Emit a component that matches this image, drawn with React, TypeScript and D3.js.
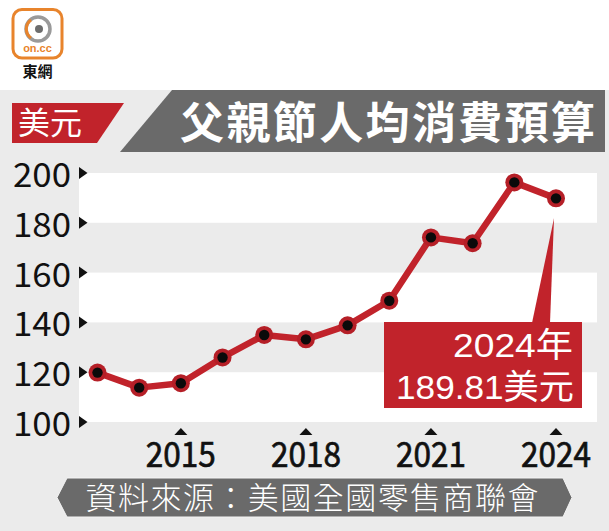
import React from "react";
import * as d3 from "d3";

const years = [2013, 2014, 2015, 2016, 2017, 2018, 2019, 2020, 2021, 2022, 2023, 2024];
const budgets = [119.84, 113.8, 115.57, 125.92, 134.95, 133.19, 138.81, 148.71, 174.14, 171.79, 196.23, 189.81];
const yTicks = [100, 120, 140, 160, 180, 200];
const xTicks = [2015, 2018, 2021, 2024];
const titleText = "父親節人均消費預算";
const unitText = "美元";
const calloutLines = ["2024年", "189.81美元"];
const sourceText = "資料來源：美國全國零售商聯會";

const W = 609;
const H = 531;
const FONT = "'Noto Sans CJK TC', 'Noto Sans', sans-serif";
const CALLOUT_FONT = "'Liberation Sans', 'Noto Sans CJK TC', sans-serif";
const RED = "#c1232b";
const BG = "#ebebeb";
const DARK = "#6a6a6a";

export default function App() {
  const x = d3.scaleLinear().domain([2013, 2024]).range([97.5, 556]);
  const y = d3.scaleLinear().domain([100, 200]).range([422, 173]);
  const plotLeft = 79;
  const plotRight = 597;

  const line = d3
    .line<number>()
    .x((_, i) => x(years[i]))
    .y((d) => y(d));

  const bands = [];
  for (let i = 0; i < yTicks.length - 1; i += 2) {
    bands.push([yTicks[i], yTicks[i + 1]]);
  }

  const lastX = x(years[years.length - 1]);
  const lastY = y(budgets[budgets.length - 1]);

  return (
    <svg
      width={W}
      height={H}
      viewBox={`0 0 ${W} ${H}`}
      style={{ position: "absolute", left: 0, top: 0, display: "block" }}
      fontFamily={FONT}
    >
      <rect x={0} y={0} width={W} height={H} fill="#ffffff" />
      <rect x={0} y={90} width={W} height={H - 90} fill={BG} />

      {/* logo */}
      <g>
        <rect x={13} y={9.5} width={49} height={48.5} rx={9} fill="#fff" stroke="#e8842c" strokeWidth={3} />
        <circle cx={38} cy={29} r={12} fill="none" stroke="#9a9a9a" strokeWidth={3.5} />
        <path d="M 31 20 A 11 11 0 0 0 31 38" fill="none" stroke="#e8842c" strokeWidth={3} />
        <circle cx={39} cy={29} r={4} fill="#6d6d6d" />
        <text x={37.5} y={52} textAnchor="middle" fontSize={11} fontWeight={700} fill="#e8842c" fontFamily="'Liberation Sans', sans-serif">
          on.cc
        </text>
        <text x={37.5} y={77} textAnchor="middle" fontSize={15} fontWeight={700} fill="#111">
          東網
        </text>
      </g>

      {/* title */}
      <polygon points="12,103 124,103 97,143 12,143" fill={RED} />
      <text x={18} y={134} fontSize={31} fill="#fff" textLength={64} lengthAdjust="spacingAndGlyphs">
        {unitText}
      </text>
      <polygon points={`172,90 605,90 605,152 120,152`} fill={DARK} />
      <text x={180} y={139} fontSize={44} fontWeight={700} fill="#fff" textLength={415} lengthAdjust="spacing">
        {titleText}
      </text>

      {/* plot stripes */}
      {bands.map(([a, b]) => (
        <rect key={a} x={plotLeft} y={y(b)} width={plotRight - plotLeft} height={y(a) - y(b)} fill="#ffffff" />
      ))}

      {/* y axis */}
      {yTicks.map((t) => (
        <g key={t}>
          <text x={71} y={y(t) + 14} textAnchor="end" fontSize={33} fill="#111" textLength={58} lengthAdjust="spacingAndGlyphs">
            {t}
          </text>
          <polygon points={`${plotLeft},${y(t) - 6} ${plotLeft + 8.5},${y(t)} ${plotLeft},${y(t) + 6}`} fill="#111" />
        </g>
      ))}

      {/* x axis */}
      {xTicks.map((t) => (
        <g key={t}>
          <polygon points={`${x(t) - 6.5},435 ${x(t)},428 ${x(t) + 6.5},435`} fill="#111" />
          <text
            x={x(t)}
            y={467}
            textAnchor="middle"
            fontSize={35}
            fill="#111"
            stroke="#111"
            strokeWidth={0.7}
            textLength={70}
            lengthAdjust="spacingAndGlyphs"
          >
            {t}
          </text>
        </g>
      ))}

      {/* callout pointer and box */}
      <polygon points={`532,323 550,323 ${lastX - 2},${lastY + 20}`} fill={RED} />
      <rect x={384} y={322} width={198} height={86} fill={RED} />
      <text x={573} y={357} textAnchor="end" fontSize={34} fill="#fff" fontFamily={CALLOUT_FONT} textLength={120} lengthAdjust="spacingAndGlyphs">
        {calloutLines[0]}
      </text>
      <text x={574} y={399} textAnchor="end" fontSize={34} fill="#fff" fontFamily={CALLOUT_FONT} textLength={178} lengthAdjust="spacingAndGlyphs">
        {calloutLines[1]}
      </text>

      {/* line + markers */}
      <path d={line(budgets) || ""} fill="none" stroke={RED} strokeWidth={6.5} strokeLinejoin="round" />
      {budgets.map((v, i) => (
        <g key={years[i]}>
          <circle cx={x(years[i])} cy={y(v)} r={9} fill="#b51f27" />
          <circle cx={x(years[i])} cy={y(v)} r={5.2} fill="#0a0a0a" />
        </g>
      ))}

      {/* source banner */}
      <polygon points="57,497.5 67,478 563,478 572,497.5 563,517 67,517" fill={DARK} stroke="#f4f4f4" strokeWidth={1} />
      <text x={312} y={509} textAnchor="middle" fontSize={31} fill="#fff" textLength={453} lengthAdjust="spacing" fontWeight={300}>
        {sourceText}
      </text>
    </svg>
  );
}
